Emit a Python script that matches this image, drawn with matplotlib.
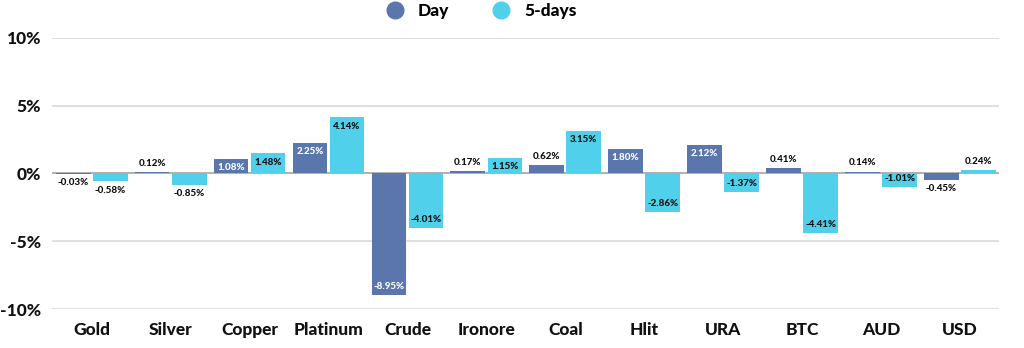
import matplotlib.pyplot as plt
import numpy as np
from matplotlib.lines import Line2D

# data
categories = ['Gold', 'Silver', 'Copper', 'Platinum', 'Crude', 'Ironore',
              'Coal', 'Hlit', 'URA', 'BTC', 'AUD', 'USD']
day = [-0.03, 0.12, 1.08, 2.25, -8.95, 0.17, 0.62, 1.80, 2.12, 0.41, 0.14, -0.45]
five_days = [-0.58, -0.85, 1.48, 4.14, -4.01, 1.15, 3.15, -2.86, -1.37, -4.41, -1.01, 0.24]
yticks = [-10, -5, 0, 5, 10]

day_color = '#5b76ad'
five_color = '#50d0eb'
text_color = '#111111'

plt.rcParams['font.family'] = ['Lato', 'DejaVu Sans']

fig = plt.figure(figsize=(10.24, 3.48), dpi=100)
ax = fig.add_axes([0.051, 0.112, 0.925, 0.779])

x = np.arange(len(categories))
w = 0.44
off = 0.235

bars_day = ax.bar(x - off, day, w, color=day_color, zorder=3)
bars_five = ax.bar(x + off, five_days, w, color=five_color, zorder=3)


def label_bars(bars, values, inside_color):
    for b, v in zip(bars, values):
        cx = b.get_x() + b.get_width() / 2
        txt = f'{v:.2f}%'
        inside = abs(v) >= 1
        col = inside_color if inside else text_color
        # inside: just within the bar end; outside: just past it
        if (v > 0) == inside:
            dy, va = -3, 'top'
        else:
            dy, va = 3, 'bottom'
        ax.annotate(txt, (cx, v), xytext=(0, dy), textcoords='offset points',
                    ha='center', va=va, fontsize=7, fontweight='black',
                    color=col, zorder=4)


label_bars(bars_day, day, 'white')
label_bars(bars_five, five_days, text_color)

ax.set_xlim(-0.5, len(categories) - 0.5)
ax.set_ylim(-10, 10)
ax.set_yticks(yticks)
ax.set_yticklabels([f'{t}%' for t in yticks], fontsize=12.5, fontweight='black',
                   color=text_color)
ax.set_xticks(x)
ax.set_xticklabels(categories, fontsize=12.5, fontweight='black', color=text_color)
ax.tick_params(axis='both', length=0)
ax.tick_params(axis='x', pad=9)
ax.tick_params(axis='y', pad=8)

ax.grid(axis='y', color='#d9d9d9', linewidth=1.2, zorder=0)
ax.axhline(0, color='#aaaaaa', linewidth=1.2, zorder=2)
for s in ax.spines.values():
    s.set_visible(False)

handles = [Line2D([], [], marker='o', linestyle='', markersize=12, color=day_color),
           Line2D([], [], marker='o', linestyle='', markersize=12, color=five_color)]
leg = fig.legend(handles, ['Day', '5-days'], loc='upper center', ncol=2,
                 bbox_to_anchor=(0.466, 1.035), frameon=False, handletextpad=0.3,
                 columnspacing=2.0, prop={'weight': 'black', 'size': 12.5})

fig.savefig('out.png', dpi=100)
